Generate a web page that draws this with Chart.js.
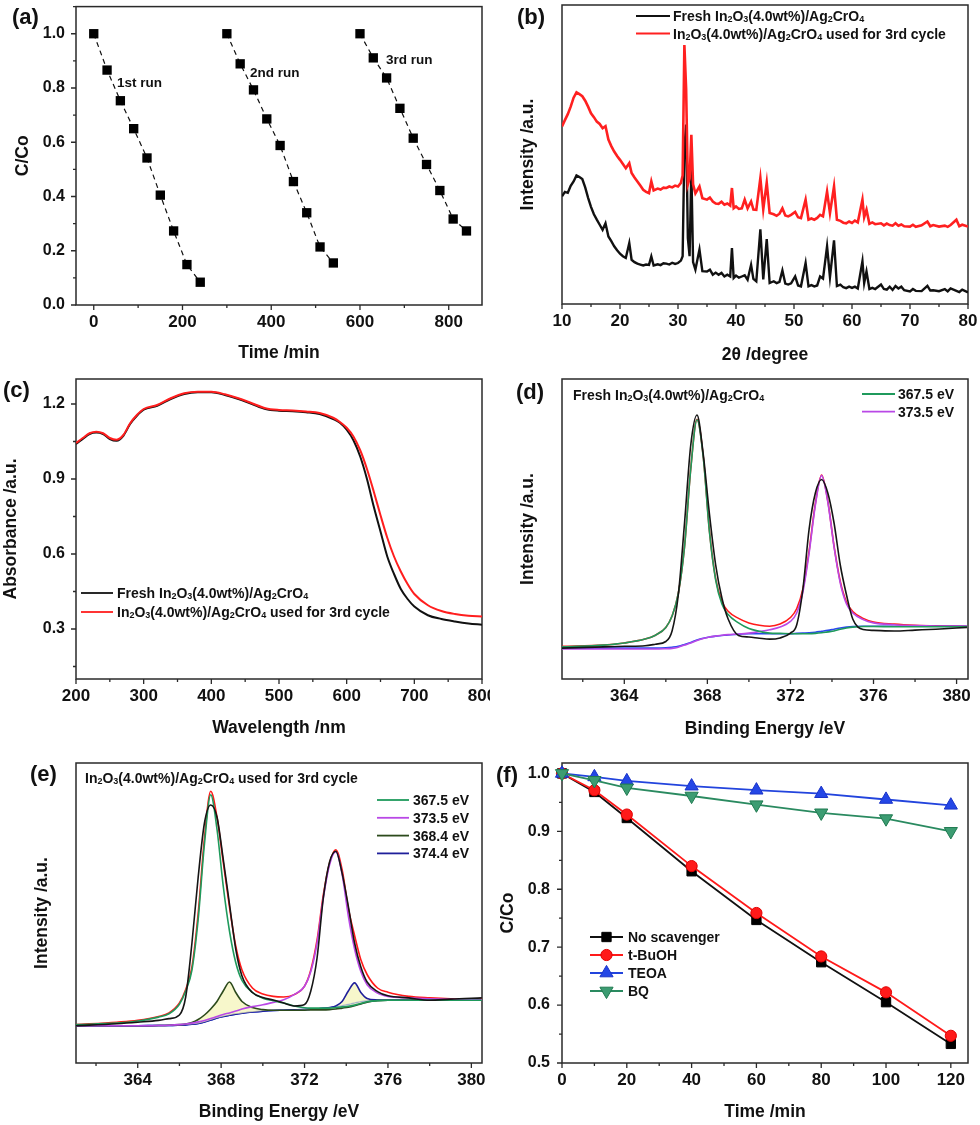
<!DOCTYPE html>
<html>
<head>
<meta charset="utf-8">
<title>In2O3/Ag2CrO4 stability and XPS figure</title>
<script src="https://cdn.jsdelivr.net/npm/chart.js@4.4.1/dist/chart.umd.min.js"></script>
<style>
  body { margin: 0; background: #fff; }
  #figure { position: relative; width: 980px; height: 1125px; overflow: hidden; }
  #figure canvas { position: absolute; }
</style>
</head>
<body>
<div id="figure">
  <canvas id="panelA" width="490" height="370" style="left:0;top:0"></canvas>
  <canvas id="panelB" width="490" height="370" style="left:490px;top:0"></canvas>
  <canvas id="panelC" width="490" height="380" style="left:0;top:370px"></canvas>
  <canvas id="panelD" width="490" height="380" style="left:490px;top:370px"></canvas>
  <canvas id="panelE" width="490" height="375" style="left:0;top:750px"></canvas>
  <canvas id="panelF" width="490" height="375" style="left:490px;top:750px"></canvas>
</div>
<script>
// (a) three recycling runs
const runTime1 = [0, 30, 60, 90, 120, 150, 180, 210, 240];
const runTime2 = [300, 330, 360, 390, 420, 450, 480, 510, 540];
const runTime3 = [600, 630, 660, 690, 720, 750, 780, 810, 840];
const run1 = [1.0, 0.866, 0.753, 0.650, 0.542, 0.405, 0.273, 0.149, 0.084];
const run2 = [1.0, 0.889, 0.793, 0.686, 0.588, 0.455, 0.340, 0.214, 0.155];
const run3 = [1.0, 0.911, 0.837, 0.725, 0.615, 0.518, 0.422, 0.317, 0.273];
const ticksA_x = [0, 200, 400, 600, 800];
const ticksA_y = [0, 0.2, 0.4, 0.6, 0.8, 1.0];

// (b) XRD patterns (arbitrary intensity)
const xrdAngle = [
  10, 10.5, 11, 11.5, 12, 12.5, 13, 13.5, 14, 14.5,
  15, 15.5, 16, 16.5, 17, 17.5, 18, 18.5, 19, 19.5,
  20, 20.5, 21, 21.6, 22, 22.5, 23, 23.5, 24, 24.5,
  25, 25.4, 25.8, 26.5, 27, 27.5, 28, 28.5, 29, 29.5,
  30, 30.5, 30.8, 31.1, 31.4, 31.7, 32.0, 32.3, 32.6, 33.0,
  33.7, 34.2, 35, 35.5, 36, 36.5, 37, 37.5, 38, 38.5,
  39, 39.3, 39.6, 40, 40.5, 41, 41.5, 42, 42.6, 43,
  43.5, 44.2, 44.7, 45.3, 45.8, 46.5, 47, 47.5, 48, 48.5,
  49, 49.5, 50.2, 50.7, 51.2, 52, 52.5, 53, 53.5, 54,
  54.5, 55, 55.7, 56.2, 56.9, 57.4, 58, 58.5, 59, 59.5,
  60, 60.5, 61, 61.8, 62.1, 62.5, 63, 63.5, 64, 65,
  65.5, 66, 66.5, 67, 67.5, 68, 68.5, 69, 70, 70.5,
  71, 72, 73, 73.5, 74, 75, 76, 76.5, 77, 78,
  78.5, 79, 80
];
const xrdFresh = [
  36.0, 37.5, 37.2, 39.5, 41.0, 43.0, 42.5, 41.8, 39.0, 35.5,
  32.5, 30.0, 28.2, 26.5, 24.8, 27.0, 22.6, 21.0, 19.3, 18.0,
  16.8, 16.0, 15.4, 20.4, 14.8, 14.0, 13.5, 13.2, 12.9, 13.2,
  13.1, 15.9, 12.9, 13.3, 13.0, 13.6, 13.5, 13.2, 13.8, 13.4,
  13.7, 14.5, 16.0, 52.0, 60.0, 22.0, 16.0, 45.0, 14.0, 11.5,
  18.2, 11.0, 10.9, 11.5, 9.8, 10.5, 9.8, 10.4, 9.2, 9.8,
  9.2, 18.7, 8.7, 9.5, 8.8, 9.2, 9.6, 8.1, 13.1, 8.4,
  7.6, 25.0, 8.2, 21.7, 7.0, 7.6, 7.0, 7.4, 11.2, 6.8,
  6.5, 6.9, 9.2, 6.2, 5.9, 13.7, 5.9, 6.3, 5.9, 6.2,
  9.2, 8.5, 19.3, 9.0, 21.3, 6.0, 6.5, 5.6, 5.3, 5.8,
  5.4, 5.8, 5.2, 14.3, 7.0, 10.9, 5.0, 5.4, 5.0, 6.5,
  5.0, 4.8, 5.8, 4.7, 6.0, 5.2, 5.8, 4.6, 4.2, 5.0,
  4.4, 4.3, 6.1, 4.5, 4.6, 4.3, 5.0, 4.2, 5.2, 4.4,
  4.0, 4.8, 3.9
];
const xrdUsed = [
  59.4, 61.5, 63.5, 66.0, 69.0, 70.8, 70.2, 69.5, 68.0, 66.0,
  63.8, 62.5, 61.0, 60.2, 58.8, 59.5, 55.0, 52.8, 51.0, 49.5,
  48.2, 46.8, 45.4, 47.1, 43.8, 42.3, 41.0, 39.6, 38.2, 37.5,
  37.1, 41.0, 38.0, 38.6, 38.3, 38.9, 38.8, 39.3, 39.0, 39.6,
  39.3, 40.5, 43.0, 86.6, 72.0, 40.0, 42.0, 56.6, 40.0, 37.0,
  39.3, 35.4, 34.9, 35.6, 34.3, 33.6, 33.5, 34.2, 33.2, 33.6,
  32.9, 38.8, 32.0, 32.6, 31.8, 32.0, 34.9, 32.0, 34.3, 31.6,
  31.5, 42.1, 31.7, 40.6, 30.4, 30.0, 29.5, 30.2, 32.0, 29.6,
  29.3, 29.8, 30.8, 29.0, 28.7, 34.9, 28.2, 28.6, 28.2, 28.8,
  29.8, 29.3, 37.6, 30.4, 39.3, 28.2, 27.8, 27.2, 27.0, 27.6,
  27.1, 27.9, 27.3, 34.9, 29.0, 31.5, 26.8, 27.3, 26.7, 27.0,
  26.3, 26.9, 26.4, 26.2, 27.0, 26.2, 26.6, 26.0, 25.9, 26.5,
  25.8, 26.3, 27.6, 26.0, 26.4, 25.9, 26.2, 25.8, 26.4, 28.2,
  26.0, 26.5, 25.9
];
const ticksB_x = [10, 20, 30, 40, 50, 60, 70, 80];

// (c) UV-vis absorbance
const wavelength = [200, 210, 220, 230, 240, 250, 260, 270, 280, 290, 300, 320, 340, 360, 380, 400, 420, 440, 460, 480,
  500, 520, 540, 560, 580, 590, 600, 610, 620, 630, 640, 650, 660, 670, 680, 690, 700, 720, 740, 760, 780, 800];
const absFresh = [1.040, 1.060, 1.080, 1.086, 1.080, 1.060, 1.053, 1.073, 1.120, 1.153, 1.177, 1.193, 1.220, 1.240, 1.247, 1.247, 1.236, 1.220, 1.200, 1.180,
  1.173, 1.171, 1.167, 1.160, 1.140, 1.125, 1.097, 1.055, 0.990, 0.900, 0.790, 0.690, 0.590, 0.520, 0.460, 0.420, 0.390, 0.355, 0.340, 0.330, 0.322, 0.317];
const absUsed = [1.044, 1.064, 1.083, 1.089, 1.083, 1.064, 1.057, 1.076, 1.123, 1.156, 1.180, 1.196, 1.223, 1.243, 1.249, 1.249, 1.239, 1.223, 1.203, 1.183,
  1.176, 1.174, 1.170, 1.164, 1.145, 1.128, 1.105, 1.070, 1.015, 0.940, 0.850, 0.755, 0.665, 0.590, 0.530, 0.480, 0.440, 0.395, 0.372, 0.360, 0.353, 0.350];
const ticksC_x = [200, 300, 400, 500, 600, 700, 800];
const ticksC_y = [0.3, 0.6, 0.9, 1.2];

// (d) and (e) In 3d XPS, shared binding energy grid
const bindingEnergy = [361, 363, 364, 365, 365.5, 366, 366.3, 366.6, 366.9, 367.2, 367.5, 367.8, 368.1, 368.4, 368.7, 369.0, 369.5, 370, 370.5,
  371, 371.5, 372, 372.3, 372.6, 372.9, 373.2, 373.5, 373.8, 374.1, 374.4, 374.7, 375, 375.5, 376, 377, 378, 379, 380.5];
const freshRaw = [10.3, 10.7, 10.9, 11.1, 11.6, 12.5, 16, 28, 52, 78, 88, 75, 55, 38, 27, 20, 14.5, 14.0, 13.6,
  13.3, 13.7, 15.3, 18, 30, 50, 62, 66.5, 62, 52, 38, 28, 20, 16.5, 16.2, 16.0, 16.3, 16.6, 17.2];
const freshFit367 = [10.7, 11.3, 12.0, 13.3, 14.6, 17.2, 21, 28.5, 44, 70, 86.4, 74, 49, 33, 25, 21.5, 18.7, 16.8, 15.9,
  15.3, 15.2, 15.1, 15.1, 15.1, 15.1, 15.2, 15.4, 15.7, 16.0, 16.6, 17.0, 17.3, 17.5, 17.5, 17.4, 17.4, 17.4, 17.4];
const freshFit373 = [10.0, 10.0, 10.0, 10.0, 10.0, 10.1, 10.2, 10.6, 11.3, 12.0, 12.8, 13.5, 14.0, 14.3, 14.6, 14.8, 15.0, 15.3, 15.8,
  16.4, 17.3, 19.2, 22, 29, 42, 58, 67.8, 59, 44, 32, 25, 22, 19.8, 18.7, 18.1, 17.8, 17.6, 17.5];
const freshEnvelope = [10.9, 11.3, 12.0, 13.3, 14.6, 17.2, 21, 28.5, 44.2, 70.2, 86.6, 74.3, 49.4, 33.4, 25.8, 22.6, 20.2, 18.7, 17.9,
  17.6, 18.3, 20.5, 23.4, 30, 42.8, 58.5, 68, 59.3, 44.3, 32.5, 25.6, 22.5, 20.2, 19.0, 18.3, 17.9, 17.7, 17.6];
const freshBackground = [10.3, 10.3, 10.3, 10.3, 10.3, 10.4, 10.6, 10.9, 11.5, 12.2, 13.0, 13.6, 14.0, 14.3, 14.5, 14.7, 14.9, 15.1, 15.1,
  15.1, 15.1, 15.1, 15.2, 15.3, 15.4, 15.6, 15.9, 16.2, 16.6, 17.0, 17.3, 17.5, 17.6, 17.6, 17.6, 17.6, 17.6, 17.6];

const usedRaw = [12.4, 13.1, 13.6, 14.2, 14.8, 16, 22, 40, 62, 80, 86, 82, 68, 53, 38, 29, 23.5, 21.8, 21,
  20, 19, 19.5, 24, 35, 55, 67, 70.6, 63.3, 52.2, 40, 32, 27, 23.8, 22.4, 21.7, 20.9, 21.3, 21.7];
const usedEnvelope = [12.8, 13.6, 14.2, 15.5, 16.7, 20, 24.5, 32, 50, 75, 90.6, 82, 67, 52, 39, 31, 25, 23, 22.2,
  22, 22.8, 25.6, 31, 41, 56, 66.7, 71.1, 64.5, 51.5, 42.5, 34.4, 29.5, 25, 23.6, 22.2, 21.7, 21.4, 21.3];
const usedFit367 = [12.8, 13.3, 14.0, 15.3, 16.4, 19.6, 24, 31, 48, 73, 89.4, 78, 59, 44, 33.5, 27.5, 23.5, 21.6, 20.8,
  20.0, 19.0, 18.4, 18.3, 18.3, 18.3, 18.3, 18.5, 18.7, 18.9, 19.3, 19.8, 20.4, 20.8, 20.9, 20.9, 20.9, 20.9, 20.9];
const usedFit373 = [12.4, 12.4, 12.4, 12.5, 12.6, 12.8, 13.0, 13.3, 13.7, 14.2, 14.8, 15.5, 16.2, 16.7, 17.3, 18.0, 18.8, 19.4, 20.2,
  21.1, 22.8, 25.6, 30.5, 40, 55, 66.1, 70.4, 63, 49, 38, 30.5, 26.1, 23.3, 22.2, 21.7, 21.4, 21.2, 21.1];
const usedFit368 = [12.4, 12.4, 12.4, 12.5, 12.6, 12.8, 13.0, 13.5, 14.5, 16.0, 18.0, 20.5, 24.0, 27.0, 23.5, 20.5, 18.5, 17.8, 17.6,
  17.6, 17.6, 17.6, 17.7, 17.7, 17.7, 17.8, 18.0, 18.3, 18.6, 19.1, 19.7, 20.3, 20.8, 20.9, 20.9, 20.9, 20.9, 20.9];
const usedFit374 = [12.4, 12.4, 12.4, 12.5, 12.5, 12.6, 12.7, 12.9, 13.2, 13.7, 14.3, 15.0, 15.5, 15.9, 16.3, 16.6, 17.0, 17.3, 17.5,
  17.6, 17.7, 17.8, 17.9, 18.0, 18.2, 18.5, 19.0, 20.5, 24.0, 26.7, 23.5, 21.5, 21.0, 20.9, 20.9, 20.9, 20.9, 20.9];
const usedBackground = [12.4, 12.4, 12.4, 12.5, 12.5, 12.6, 12.7, 12.9, 13.2, 13.7, 14.3, 15.0, 15.5, 15.9, 16.3, 16.6, 17.0, 17.3, 17.5,
  17.6, 17.7, 17.8, 17.9, 18.0, 18.2, 18.4, 18.7, 19.1, 19.5, 20.0, 20.4, 20.7, 20.9, 20.9, 20.9, 20.9, 20.9, 20.9];
const ticksBE = [364, 368, 372, 376, 380];

// (f) scavenger tests
const scavTime = [0, 10, 20, 40, 60, 80, 100, 120];
const noScavenger = [1.0, 0.968, 0.923, 0.831, 0.747, 0.674, 0.605, 0.533];
const tBuOH = [1.0, 0.971, 0.929, 0.840, 0.759, 0.684, 0.622, 0.547];
const TEOA = [1.0, 0.994, 0.987, 0.978, 0.971, 0.965, 0.955, 0.945];
const BQ = [1.0, 0.988, 0.975, 0.961, 0.946, 0.932, 0.922, 0.900];
const ticksF_x = [0, 20, 40, 60, 80, 100, 120];
const ticksF_y = [0.5, 0.6, 0.7, 0.8, 0.9, 1.0];

const FONT = '"Liberation Sans", Arial, sans-serif';
const INK = '#111';
Chart.defaults.font.family = FONT;
Chart.defaults.font.weight = 'bold';
Chart.defaults.color = INK;
Chart.defaults.animation = false;
Chart.defaults.plugins.legend.display = false;
Chart.defaults.plugins.tooltip.enabled = false;

function pts(xs, ys) {
  return xs.map((x, i) => ({ x: x, y: ys[i] }));
}

// midpoints between major ticks, kept inside the axis range
function minorOf(major, min, max) {
  const half = (major[1] - major[0]) / 2;
  const out = [];
  for (let v = major[0] - half; v <= max + 1e-9; v += 2 * half) {
    if (v >= min - 1e-9) out.push(v);
  }
  return out;
}

// subscripts are written as _2, _3 ...
function richText(ctx, str, x, cy, size) {
  const parts = str.split(/(_\d)/).filter(Boolean);
  const big = 'bold ' + size + 'px ' + FONT;
  const small = 'bold ' + Math.round(size * 0.64) + 'px ' + FONT;
  const base = cy + size * 0.36;
  ctx.textAlign = 'left';
  ctx.textBaseline = 'alphabetic';
  let cx = x;
  parts.forEach(p => {
    const sub = p[0] === '_';
    const t = sub ? p.slice(1) : p;
    ctx.font = sub ? small : big;
    ctx.fillText(t, cx, base + (sub ? size * 0.1 : 0));
    cx += ctx.measureText(t).width;
  });
}

function axis(o) {
  return {
    type: 'linear',
    min: o.min,
    max: o.max,
    grid: { display: false, drawTicks: false },
    border: { display: false },
    afterBuildTicks: s => { if (o.major) s.ticks = o.major.map(v => ({ value: v })); },
    afterFit: s => {
      if (o.horizontal) { s.height = o.size; s.paddingLeft = 0; s.paddingRight = 0; }
      else { s.width = o.size; s.paddingTop = 0; s.paddingBottom = 0; }
    },
    ticks: {
      display: !!o.major,
      autoSkip: false,
      maxRotation: 0,
      padding: o.labelPad,
      color: INK,
      font: { size: o.horizontal ? 17 : 16, weight: 'bold' },
      callback: o.fmt || (v => v)
    },
    title: {
      display: true,
      text: o.title,
      color: INK,
      font: { size: 17.5, weight: 'bold' },
      padding: { top: o.titlePad, bottom: o.titlePad }
    }
  };
}

// box around the plot plus outward major/minor ticks
function frame(spec) {
  return {
    id: 'frame',
    beforeDatasetsDraw(chart) {
      const { ctx, chartArea: a, scales } = chart;
      ctx.save();
      ctx.strokeStyle = '#2a2a2a';
      ctx.lineWidth = 1.5;
      ctx.strokeRect(a.left, a.top, a.right - a.left, a.bottom - a.top);
      ctx.lineWidth = 1.3;
      ctx.beginPath();
      if (spec.x) {
        const s = scales.x;
        spec.x.forEach(v => { const p = s.getPixelForValue(v); ctx.moveTo(p, a.bottom); ctx.lineTo(p, a.bottom + 5); });
        minorOf(spec.x, s.min, s.max).forEach(v => { const p = s.getPixelForValue(v); ctx.moveTo(p, a.bottom); ctx.lineTo(p, a.bottom + 3); });
      }
      if (spec.y) {
        const s = scales.y;
        spec.y.forEach(v => { const p = s.getPixelForValue(v); ctx.moveTo(a.left, p); ctx.lineTo(a.left - 5, p); });
        minorOf(spec.y, s.min, s.max).forEach(v => { const p = s.getPixelForValue(v); ctx.moveTo(a.left, p); ctx.lineTo(a.left - 3, p); });
      }
      ctx.stroke();
      ctx.restore();
    }
  };
}

// panel letters, annotations and hand placed legends
function overlay(items) {
  return {
    id: 'overlay',
    afterDraw(chart) {
      const ctx = chart.ctx;
      ctx.save();
      items.forEach(it => {
        if (it.line) {
          ctx.strokeStyle = it.line;
          ctx.lineWidth = it.lw || 1.8;
          ctx.beginPath();
          ctx.moveTo(it.x0, it.y);
          ctx.lineTo(it.x1, it.y);
          ctx.stroke();
          if (it.marker) {
            ctx.fillStyle = it.marker.fill;
            ctx.strokeStyle = it.marker.stroke;
            ctx.lineWidth = 1;
            Chart.helpers.drawPoint(ctx, it.marker, (it.x0 + it.x1) / 2, it.y);
          }
        }
        if (it.text) {
          ctx.fillStyle = INK;
          richText(ctx, it.text, it.tx, it.y, it.size || 14);
        }
      });
      ctx.restore();
    }
  };
}

function legendRows(rows, x0, x1, tx, y0, dy, size) {
  return rows.map((r, i) => ({ line: r.color, lw: r.lw, marker: r.marker, x0: x0, x1: x1, y: y0 + i * dy, text: r.text, tx: tx, size: size }));
}

const LABEL = 22;
const FRESH = 'Fresh In_2O_3(4.0wt%)/Ag_2CrO_4';
const USED = 'In_2O_3(4.0wt%)/Ag_2CrO_4 used for 3rd cycle';

// ---------- (a)
function runSet(xs, ys) {
  return {
    data: pts(xs, ys),
    borderColor: '#111',
    borderWidth: 1.2,
    borderDash: [5, 4],
    backgroundColor: '#000',
    pointStyle: 'rect',
    pointRadius: 6.6,
    pointBorderWidth: 0,
    clip: false
  };
}
new Chart(document.getElementById('panelA'), {
  type: 'line',
  data: { datasets: [runSet(runTime1, run1), runSet(runTime2, run2), runSet(runTime3, run3)] },
  options: {
    responsive: false,
    layout: { padding: { top: 5, right: 8, left: 0, bottom: 0 } },
    scales: {
      x: axis({ horizontal: true, min: -40, max: 875, major: ticksA_x, size: 65, labelPad: 7, title: 'Time /min', titlePad: 6.5 }),
      y: axis({ min: 0, max: 1.1, major: ticksA_y, size: 76, labelPad: 11, title: 'C/Co', titlePad: 12.5, fmt: v => v.toFixed(1) })
    }
  },
  plugins: [frame({ x: ticksA_x, y: ticksA_y }), overlay([
    { text: '(a)', tx: 12, y: 16, size: LABEL },
    { text: '1st run', tx: 117, y: 82, size: 13.5 },
    { text: '2nd run', tx: 250, y: 72, size: 13.5 },
    { text: '3rd run', tx: 386, y: 59, size: 13.5 }
  ])]
});

// ---------- (b)
new Chart(document.getElementById('panelB'), {
  type: 'line',
  data: {
    datasets: [
      { data: pts(xrdAngle, xrdUsed), borderColor: '#ff2020', borderWidth: 2.6, pointRadius: 0 },
      { data: pts(xrdAngle, xrdFresh), borderColor: '#111', borderWidth: 2.4, pointRadius: 0 }
    ]
  },
  options: {
    responsive: false,
    layout: { padding: { top: 5, right: 12, left: 0, bottom: 0 } },
    scales: {
      x: axis({ horizontal: true, min: 10, max: 80, major: ticksB_x, size: 66, labelPad: 7, title: '2\u03B8 /degree', titlePad: 4.5 }),
      y: axis({ min: 0, max: 100, size: 72, title: 'Intensity /a.u.', titlePad: 27.5 })
    }
  },
  plugins: [frame({ x: ticksB_x }), overlay([
    { text: '(b)', tx: 27, y: 16, size: LABEL },
    ...legendRows([{ color: '#111', text: FRESH }, { color: '#ff2020', text: USED }], 146, 180, 183, 16, 17.5, 14)
  ])]
});

// ---------- (c)
new Chart(document.getElementById('panelC'), {
  type: 'line',
  data: {
    datasets: [
      { data: pts(wavelength, absUsed), borderColor: '#ff1e1e', borderWidth: 2, pointRadius: 0, cubicInterpolationMode: 'monotone' },
      { data: pts(wavelength, absFresh), borderColor: '#111', borderWidth: 2, pointRadius: 0, cubicInterpolationMode: 'monotone' }
    ]
  },
  options: {
    responsive: false,
    layout: { padding: { top: 9, right: 8, left: 0, bottom: 0 } },
    scales: {
      x: axis({ horizontal: true, min: 200, max: 800, major: ticksC_x, size: 71, labelPad: 7, title: 'Wavelength /nm', titlePad: 11.5 }),
      y: axis({ min: 0.1, max: 1.3, major: ticksC_y, size: 76, labelPad: 11, title: 'Absorbance /a.u.', titlePad: 0.5, fmt: v => v.toFixed(1) })
    }
  },
  plugins: [frame({ x: ticksC_x, y: ticksC_y }), overlay([
    { text: '(c)', tx: 3, y: 19, size: LABEL },
    ...legendRows([{ color: '#111', text: FRESH }, { color: '#ff1e1e', text: USED }], 81, 113, 117, 223, 19, 14)
  ])]
});

// ---------- (d)
const GREEN = '#1f9a5c', MAGENTA = '#b948e6', BLUE = '#2a48ee', RED = '#ff1a1a';
function xpsSet(ys, color, extra) {
  return Object.assign({ data: pts(bindingEnergy, ys), borderColor: color, borderWidth: 1.6, pointRadius: 0, cubicInterpolationMode: 'monotone' }, extra || {});
}
new Chart(document.getElementById('panelD'), {
  type: 'line',
  data: {
    datasets: [
      xpsSet(freshRaw, '#151515'),
      xpsSet(freshFit367, GREEN),
      xpsSet(freshFit373, MAGENTA),
      xpsSet(freshBackground, BLUE),
      xpsSet(freshEnvelope, RED)
    ]
  },
  options: {
    responsive: false,
    layout: { padding: { top: 9, right: 12, left: 0, bottom: 0 } },
    scales: {
      x: axis({ horizontal: true, min: 361, max: 380.55, major: ticksBE, size: 71, labelPad: 7, title: 'Binding Energy /eV', titlePad: 10.5 }),
      y: axis({ min: 0, max: 100, size: 72, title: 'Intensity /a.u.', titlePad: 27.5 })
    }
  },
  plugins: [frame({ x: ticksBE }), overlay([
    { text: '(d)', tx: 26, y: 21, size: LABEL },
    { text: FRESH, tx: 83, y: 25, size: 14 },
    ...legendRows([{ color: GREEN, text: '367.5 eV' }, { color: MAGENTA, text: '373.5 eV' }], 372, 405, 408, 24, 17.7, 14)
  ])]
});

// ---------- (e)
const OLIVE = '#2c4a1c', NAVY = '#1f1f9a';
new Chart(document.getElementById('panelE'), {
  type: 'line',
  data: {
    datasets: [
      xpsSet(usedRaw, '#151515'),
      xpsSet(usedFit367, GREEN),
      xpsSet(usedFit373, MAGENTA),
      xpsSet(usedEnvelope, RED),
      xpsSet(usedFit368, OLIVE, { fill: 6, backgroundColor: 'rgba(244,244,186,0.75)' }),
      xpsSet(usedFit374, NAVY, { fill: 6, backgroundColor: 'rgba(244,244,186,0.75)' }),
      xpsSet(usedBackground, BLUE)
    ]
  },
  options: {
    responsive: false,
    layout: { padding: { top: 13, right: 8, left: 0, bottom: 0 } },
    plugins: { filler: { propagate: false } },
    scales: {
      x: axis({ horizontal: true, min: 361.04, max: 380.51, major: ticksBE, size: 62, labelPad: 7, title: 'Binding Energy /eV', titlePad: 2.8 }),
      y: axis({ min: 0, max: 100, size: 76, title: 'Intensity /a.u.', titlePad: 31.5 })
    }
  },
  plugins: [frame({ x: ticksBE }), overlay([
    { text: '(e)', tx: 30, y: 23, size: LABEL },
    { text: USED, tx: 85, y: 28, size: 14 },
    ...legendRows([
      { color: GREEN, text: '367.5 eV' },
      { color: MAGENTA, text: '373.5 eV' },
      { color: OLIVE, text: '368.4 eV' },
      { color: NAVY, text: '374.4 eV' }
    ], 377, 409, 413, 50, 17.8, 14)
  ])]
});

// ---------- (f)
const markNone = { pointStyle: 'rect', radius: 6.6, rotation: 0, borderWidth: 1, fill: '#000', stroke: '#000' };
const markBuOH = { pointStyle: 'circle', radius: 5.6, rotation: 0, borderWidth: 1, fill: '#ff1a1a', stroke: '#e00000' };
const markTEOA = { pointStyle: 'triangle', radius: 7.6, rotation: 0, borderWidth: 1, fill: '#2447e6', stroke: '#1a33c8' };
const markBQ = { pointStyle: 'triangle', radius: 7.6, rotation: 180, borderWidth: 1, fill: '#3c9c72', stroke: '#1f7a50' };
function scavSet(ys, line, m, order) {
  return {
    data: pts(scavTime, ys),
    order: order,
    borderColor: line,
    borderWidth: 1.8,
    pointStyle: m.pointStyle,
    pointRotation: m.rotation,
    pointRadius: m.radius,
    pointBackgroundColor: m.fill,
    pointBorderColor: m.stroke,
    pointBorderWidth: 1,
    clip: false
  };
}
new Chart(document.getElementById('panelF'), {
  type: 'line',
  data: {
    datasets: [
      scavSet(noScavenger, '#111', markNone, 3),
      scavSet(tBuOH, '#ff1a1a', markBuOH, 2),
      scavSet(TEOA, '#2244dd', markTEOA, 1),
      scavSet(BQ, '#2a8a60', markBQ, 0)
    ]
  },
  options: {
    responsive: false,
    layout: { padding: { top: 13, right: 12, left: 0, bottom: 0 } },
    scales: {
      x: axis({ horizontal: true, min: 0, max: 125.3, major: ticksF_x, size: 62, labelPad: 7, title: 'Time /min', titlePad: 2.8 }),
      y: axis({ min: 0.5, max: 1.018, major: ticksF_y, size: 72, labelPad: 12, title: 'C/Co', titlePad: 7.5, fmt: v => v.toFixed(1) })
    }
  },
  plugins: [frame({ x: ticksF_x, y: ticksF_y }), overlay([
    { text: '(f)', tx: 6, y: 24, size: LABEL },
    ...legendRows([
      { color: '#111', marker: markNone, text: 'No scavenger' },
      { color: '#ff1a1a', marker: markBuOH, text: 't-BuOH' },
      { color: '#2244dd', marker: markTEOA, text: 'TEOA' },
      { color: '#2a8a60', marker: markBQ, text: 'BQ' }
    ], 100, 133, 138, 187, 18, 14)
  ])]
});
</script>
</body>
</html>
